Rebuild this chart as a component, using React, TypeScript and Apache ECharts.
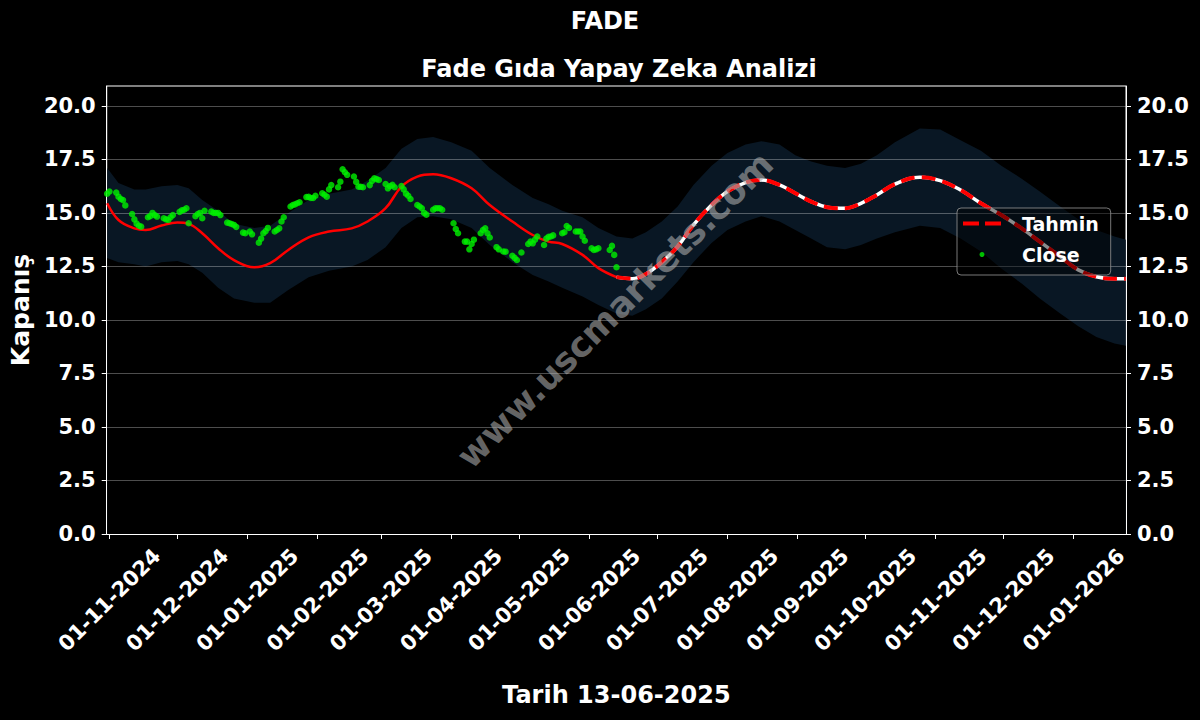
import React, { useEffect, useRef } from 'react';
import * as echarts from 'echarts';

const chartTitle = 'FADE';
const chartSubtitle = 'Fade Gıda Yapay Zeka Analizi';
const yAxisName = 'Kapanış';
const xAxisName = 'Tarih 13-06-2025';
const watermarkText = 'www.uscmarkets.com';

const yTicks = [0, 2.5, 5, 7.5, 10, 12.5, 15, 17.5, 20];
const yMax = 20.93;
const xMin = '2024-10-30T19:00:00Z';
const xMax = '2026-01-24T02:00:00Z';
const xTickDates = [
  '2024-11-01', '2024-12-01', '2025-01-01', '2025-02-01', '2025-03-01', '2025-04-01', '2025-05-01',
  '2025-06-01', '2025-07-01', '2025-08-01', '2025-09-01', '2025-10-01', '2025-11-01', '2025-12-01', '2026-01-01',
];

// Close (trading days)
const closeStart = '2024-10-31';
const closeEnd = '2025-06-13';
const marketHolidays = ['2025-01-01', '2025-03-31', '2025-04-01', '2025-04-23', '2025-05-01', '2025-05-19', '2025-06-06', '2025-06-09'];
const closeValues = [
  15.9,
  16.0, 15.95, 15.76, 15.65, 15.6, 15.35, 14.95, 14.7, 14.5, 14.4, 14.36, 14.8, 14.85, 15.0, 14.9, 14.83, 14.75, 14.7, 14.67, 14.8, 14.9,
  15.05, 15.12, 15.15, 15.22, 14.52, 14.85, 14.95, 15.0, 14.75, 15.1, 15.06, 15.0, 15.0, 15.0, 14.9, 14.55, 14.52, 14.48, 14.44, 14.35, 14.08, 14.05,
  14.13, 14.0, 13.61, 13.8, 14.05, 14.15, 14.3, 14.13, 14.2, 14.28, 14.6, 14.8, 15.3, 15.37, 15.4, 15.45, 15.5, 15.74, 15.75, 15.7, 15.7, 15.8,
  15.92, 15.85, 15.76, 16.1, 16.3, 16.2, 16.46, 17.04, 16.9, 16.78, 16.7, 16.45, 16.23, 16.22, 16.2, 16.3, 16.5, 16.62, 16.58, 16.54,
  16.35, 16.15, 16.25, 16.31, 16.2, 16.26, 16.1, 15.9, 15.8, 15.65, 15.37, 15.3, 15.22, 15.0, 14.92, 15.15, 15.22, 15.22, 15.22, 15.15,
  14.52, 14.25, 14.05, 13.66, 13.66, 13.3, 13.55, 13.75, 14.05, 14.2, 14.28, 14.05, 13.85, 13.4, 13.3, 13.2, 13.19, 13.0, 12.9, 12.8,
  13.15, 13.55, 13.66, 13.58, 13.75, 13.9, 13.5, 13.8, 13.88, 13.9, 13.95, 14.05, 14.1, 14.39, 14.3, 14.13, 14.13, 14.13, 13.9, 13.7,
  13.35, 13.27, 13.3, 13.35, 13.27, 13.46, 13.04, 12.46,
];

// fitted line over the history
const fitDates = [
  '2024-10-31', '2024-11-05', '2024-11-12', '2024-11-17', '2024-11-24', '2024-12-01', '2024-12-06', '2024-12-12', '2024-12-19', '2024-12-26',
  '2025-01-04', '2025-01-11', '2025-01-19', '2025-01-28', '2025-02-06', '2025-02-16', '2025-02-23', '2025-03-03', '2025-03-10', '2025-03-17',
  '2025-03-24', '2025-04-01', '2025-04-10', '2025-04-18', '2025-04-28', '2025-05-07', '2025-05-14', '2025-05-20', '2025-05-29', '2025-06-05',
  '2025-06-13',
];
const fitValues = [
  15.45, 14.67, 14.28, 14.2, 14.41, 14.55, 14.49, 14.05, 13.35, 12.8,
  12.46, 12.65, 13.27, 13.86, 14.13, 14.28, 14.6, 15.22, 16.23, 16.7,
  16.81, 16.62, 16.15, 15.37, 14.6, 13.97, 13.66, 13.55, 13.04, 12.42,
  12.0,
];

// forecast (Tahmin)
const forecastDates = [
  '2025-06-13', '2025-06-20', '2025-06-26', '2025-07-03', '2025-07-10', '2025-07-17', '2025-07-25', '2025-08-01', '2025-08-09', '2025-08-16',
  '2025-08-24', '2025-08-31', '2025-09-07', '2025-09-14', '2025-09-22', '2025-09-29', '2025-10-06', '2025-10-14', '2025-10-25', '2025-11-03',
  '2025-11-12', '2025-11-21', '2025-11-30', '2025-12-09', '2025-12-17', '2025-12-26', '2026-01-03', '2026-01-11', '2026-01-19', '2026-01-24',
];
const forecastValues = [
  12.0, 11.93, 12.15, 12.7, 13.43, 14.44, 15.37, 16.0, 16.42, 16.54,
  16.31, 15.92, 15.53, 15.27, 15.22, 15.45, 15.84, 16.35, 16.67, 16.51,
  16.07, 15.45, 14.9, 14.28, 13.66, 12.96, 12.34, 12.02, 11.92, 11.92,
];

// confidence band
const bandDates = [
  '2024-10-31', '2024-11-05', '2024-11-12', '2024-11-17', '2024-11-24', '2024-12-01', '2024-12-06', '2024-12-12', '2024-12-19', '2024-12-26',
  '2025-01-04', '2025-01-11', '2025-01-19', '2025-01-28', '2025-02-06', '2025-02-16', '2025-02-23', '2025-03-03', '2025-03-10', '2025-03-17',
  '2025-03-24', '2025-04-01', '2025-04-10', '2025-04-18', '2025-04-28', '2025-05-07', '2025-05-14', '2025-05-20', '2025-05-29', '2025-06-05',
  '2025-06-13', '2025-06-20', '2025-06-26', '2025-07-03', '2025-07-10', '2025-07-17', '2025-07-25', '2025-08-01', '2025-08-09', '2025-08-16',
  '2025-08-24', '2025-08-31', '2025-09-07', '2025-09-14', '2025-09-22', '2025-09-29', '2025-10-06', '2025-10-14', '2025-10-25', '2025-11-03',
  '2025-11-12', '2025-11-21', '2025-11-30', '2025-12-09', '2025-12-17', '2025-12-26', '2026-01-03', '2026-01-11', '2026-01-19', '2026-01-24',
];
const bandUpper = [
  17.1, 16.4, 16.1, 16.1, 16.25, 16.3, 16.15, 15.6, 15.1, 14.5,
  14.3, 14.4, 15.0, 15.6, 15.9, 16.1, 16.5, 17.1, 18.0, 18.45,
  18.55, 18.3, 17.9, 17.1, 16.3, 15.7, 15.4, 15.1, 14.8, 14.3,
  13.9, 13.8, 14.1, 14.6, 15.3, 16.3, 17.2, 17.8, 18.2, 18.35,
  18.2, 17.7, 17.4, 17.2, 17.1, 17.3, 17.7, 18.3, 18.95, 18.9,
  18.4, 17.9, 17.2, 16.6, 16.0, 15.3, 14.7, 14.2, 13.9, 13.75,
];
const bandLower = [
  12.9, 12.7, 12.6, 12.5, 12.7, 12.75, 12.6, 12.2, 11.5, 11.0,
  10.8, 10.8, 11.4, 12.0, 12.3, 12.5, 12.8, 13.4, 14.3, 14.8,
  14.85, 14.7, 14.3, 13.5, 12.7, 12.1, 11.8, 11.5, 11.1, 10.7,
  10.3, 10.2, 10.5, 11.0, 11.8, 12.7, 13.6, 14.2, 14.6, 14.85,
  14.6, 14.2, 13.8, 13.4, 13.3, 13.5, 13.8, 14.1, 14.4, 14.3,
  13.8, 13.2, 12.4, 11.7, 11.0, 10.3, 9.7, 9.2, 8.9, 8.8,
];

const FONT = 'DejaVu Sans';
const DAY = 86400000;
const ts = (s: string) => Date.parse(s.length === 10 ? s + 'T00:00:00Z' : s);

function tradingDays(start: string, end: string, holidays: string[]) {
  const out: number[] = [];
  for (let t = ts(start); t <= ts(end); t += DAY) {
    const d = new Date(t);
    const wd = d.getUTCDay();
    if (wd === 0 || wd === 6) continue;
    if (holidays.includes(d.toISOString().slice(0, 10))) continue;
    out.push(t);
  }
  return out;
}

const pad2 = (n: number) => (n < 10 ? '0' : '') + n;
const fmtDate = (v: number) => {
  const d = new Date(v);
  return `${pad2(d.getUTCDate())}-${pad2(d.getUTCMonth() + 1)}-${d.getUTCFullYear()}`;
};

function buildOption() {
  const closeDays = tradingDays(closeStart, closeEnd, marketHolidays);
  const n = Math.min(closeDays.length, closeValues.length);
  const closeData = closeValues.slice(0, n).map((v, i) => [closeDays[i], v]);
  const fitData = fitDates.map((d, i) => [ts(d), fitValues[i]]);
  const fcData = forecastDates.map((d, i) => [ts(d), forecastValues[i]]);
  const lowData = bandDates.map((d, i) => [ts(d), bandLower[i]]);
  const upData = bandDates.map((d, i) => [ts(d), bandUpper[i]]);
  const xTicks = xTickDates.map(ts);

  const labelStyle = { color: '#fff', fontFamily: FONT, fontWeight: 'bold' as const, fontSize: 21 };

  return {
    animation: false,
    backgroundColor: '#000',
    title: [
      { text: chartTitle, left: 600, textAlign: 'center', top: 4, textStyle: { color: '#fff', fontFamily: FONT, fontWeight: 'bold', fontSize: 24 } },
      { text: chartSubtitle, left: 614, textAlign: 'center', top: 52, textStyle: { color: '#fff', fontFamily: FONT, fontWeight: 'bold', fontSize: 24 } },
    ],
    grid: { left: 104, right: 74, top: 86, bottom: 186, show: true, borderColor: '#fff', borderWidth: 1, backgroundColor: 'transparent' },
    legend: {
      data: [
        { name: 'Tahmin', icon: 'path://M0 0H16V4H0Z M22 0H38V4H22Z' },
        { name: 'Close' },
      ],
      orient: 'vertical',
      left: 957,
      top: 208,
      itemWidth: 38,
      itemHeight: 5,
      itemGap: 12,
      padding: [6, 12, 11, 6],
      backgroundColor: 'rgba(0,0,0,0.45)',
      borderColor: 'rgba(150,150,150,0.8)',
      borderWidth: 1,
      borderRadius: 4,
      textStyle: { color: '#fff', fontFamily: FONT, fontWeight: 'bold', fontSize: 19, padding: [0, 0, 0, 16] },
      z: 10,
    },
    xAxis: {
      type: 'value',
      min: ts(xMin),
      max: ts(xMax),
      z: 2,
      name: xAxisName,
      nameLocation: 'middle',
      nameGap: 149,
      nameTextStyle: { color: '#fff', fontFamily: FONT, fontWeight: 'bold', fontSize: 24 },
      axisLine: { show: true, lineStyle: { color: '#fff', width: 1 } },
      axisTick: { show: true, length: 5, lineStyle: { color: '#fff' }, customValues: xTicks },
      axisLabel: {
        ...labelStyle,
        customValues: xTicks,
        rotate: 45,
        align: 'center',
        verticalAlign: 'middle',
        margin: 66,
        formatter: (v: number) => fmtDate(v),
        hideOverlap: false,
      },
      splitLine: { show: false },
    },
    yAxis: [
      {
        type: 'value',
        min: 0,
        max: yMax,
        interval: 2.5,
        z: 2,
        name: yAxisName,
        nameLocation: 'middle',
        nameGap: 70,
        nameRotate: 90,
        nameTextStyle: { color: '#fff', fontFamily: FONT, fontWeight: 'bold', fontSize: 25 },
        axisLine: { show: true, lineStyle: { color: '#fff', width: 1 } },
        axisTick: { show: true, length: 5, lineStyle: { color: '#fff' }, customValues: yTicks },
        axisLabel: { ...labelStyle, margin: 11, customValues: yTicks, formatter: (v: number) => v.toFixed(1) },
        splitLine: { show: true, lineStyle: { color: 'rgba(255,255,255,0.3)', width: 1 } },
      },
      {
        type: 'value',
        position: 'right',
        min: 0,
        max: yMax,
        interval: 2.5,
        z: 2,
        axisLine: { show: true, lineStyle: { color: '#fff', width: 1 } },
        axisTick: { show: true, length: 5, lineStyle: { color: '#fff' }, customValues: yTicks },
        axisLabel: { ...labelStyle, margin: 11, customValues: yTicks, formatter: (v: number) => v.toFixed(1) },
        splitLine: { show: false },
      },
    ],
    series: [
      {
        name: 'bandUpper',
        type: 'line',
        data: upData,
        symbol: 'none',
        lineStyle: { width: 0, opacity: 0 },
        areaStyle: { color: '#091724', opacity: 1, origin: 'start' },
        z: 1,
        silent: true,
      },
      {
        name: 'bandLower',
        type: 'line',
        data: lowData,
        symbol: 'none',
        lineStyle: { width: 0, opacity: 0 },
        areaStyle: { color: '#000000', opacity: 1, origin: 'start' },
        z: 1,
        silent: true,
      },
      {
        name: 'fit',
        type: 'line',
        data: fitData,
        symbol: 'none',
        smooth: 0.4,
        lineStyle: { color: '#ff0000', width: 2.5 },
        z: 3,
      },
      {
        name: 'TahminBase',
        type: 'line',
        data: fcData,
        symbol: 'none',
        smooth: 0.4,
        lineStyle: { color: '#ffffff', width: 3.5 },
        z: 3,
      },
      {
        name: 'Tahmin',
        type: 'line',
        data: fcData,
        symbol: 'none',
        smooth: 0.4,
        lineStyle: { color: '#ff0000', width: 4, type: [14, 7] },
        itemStyle: { color: '#ff0000' },
        z: 4,
      },
      {
        name: 'Close',
        type: 'scatter',
        data: closeData,
        symbol: 'circle',
        symbolSize: 6.5,
        itemStyle: { color: '#00f000' },
        z: 5,
      },
    ],
    graphic: [
      {
        type: 'text',
        x: 615,
        y: 310,
        rotation: Math.PI / 4,
        z: 20,
        silent: true,
        style: {
          text: watermarkText,
          fill: 'rgba(170,170,170,0.6)',
          font: `bold 35px "${FONT}"`,
          align: 'center',
          verticalAlign: 'middle',
        },
      },
    ],
  };
}

export default function App() {
  const ref = useRef<HTMLDivElement>(null);
  useEffect(() => {
    const chart = echarts.init(ref.current!, null, { renderer: 'svg' });
    chart.setOption(buildOption() as any);
    return () => chart.dispose();
  }, []);
  return (
    <div
      ref={ref}
      style={{ position: 'fixed', left: 0, top: 0, width: 1200, height: 720, background: '#000' }}
    />
  );
}
